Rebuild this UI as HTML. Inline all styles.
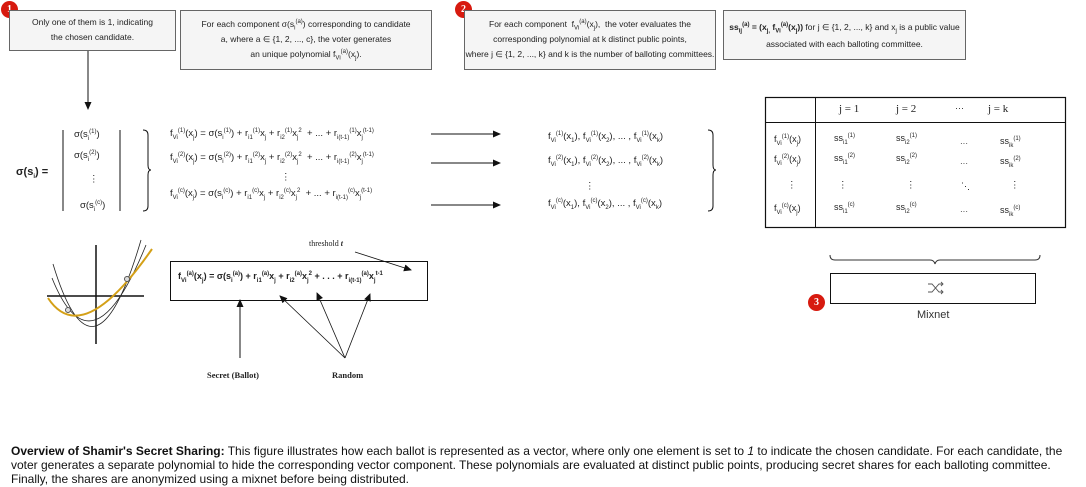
<!DOCTYPE html>
<html><head><meta charset="utf-8"><style>
body{margin:0;width:1086px;height:487px;background:#fff;position:relative;overflow:hidden;font-family:"Liberation Sans",sans-serif;color:#222}
.a{position:absolute;white-space:nowrap}
.box{position:absolute;background:#f5f5f5;border:1px solid #666;box-sizing:border-box;text-align:center;font-size:8.5px;line-height:15px;white-space:nowrap}
.badge{position:absolute;width:17px;height:17px;border-radius:50%;background:#d71a0f;color:#fff;font-size:10px;font-weight:bold;text-align:center;line-height:17px;font-family:"Liberation Serif",serif}
sup,sub{font-size:6px;line-height:0}
.eq{font-size:9.5px}
.t{font-family:"Liberation Serif",serif}
</style></head><body>
<svg class="a" style="left:0;top:0" width="1086" height="487">
<defs><marker id="ar" markerWidth="8" markerHeight="8" refX="7" refY="4" orient="auto" markerUnits="userSpaceOnUse"><path d="M0,0.5 L8,4 L0,7.5z" fill="#111"/></marker></defs>
<g stroke="#111" fill="none" stroke-width="1">
<line x1="88" y1="50" x2="88" y2="109" marker-end="url(#ar)"/>
<line x1="63" y1="130" x2="63" y2="211"/><line x1="120" y1="130" x2="120" y2="211"/>
<path d="M143,130 q5,0 5,5 v30 q0,5 3,5 q-3,0 -3,5 v31 q0,5 -5,5"/>
<path d="M708,130 q5,0 5,5 v30 q0,5 3,5 q-3,0 -3,5 v31 q0,5 -5,5"/>
<line x1="431" y1="134" x2="500" y2="134" marker-end="url(#ar)"/>
<line x1="431" y1="163" x2="500" y2="163" marker-end="url(#ar)"/>
<line x1="431" y1="205" x2="500" y2="205" marker-end="url(#ar)"/>
<rect x="765.5" y="97.5" width="300" height="130" stroke-width="1.2"/>
<line x1="765" y1="122.5" x2="1066" y2="122.5"/><line x1="815.5" y1="97" x2="815.5" y2="228"/>
<rect x="170.5" y="261.5" width="257" height="39"/>
<line x1="240" y1="358" x2="240" y2="300" marker-end="url(#ar)"/>
<line x1="345" y1="358" x2="280" y2="296" marker-end="url(#ar)" stroke-width="0.8"/>
<line x1="345" y1="358" x2="317" y2="293" marker-end="url(#ar)" stroke-width="0.8"/>
<line x1="345" y1="358" x2="370" y2="294" marker-end="url(#ar)" stroke-width="0.8"/>
<line x1="355" y1="252" x2="411" y2="270" marker-end="url(#ar)" stroke-width="0.8"/>
<path d="M830,255 q0,5 5,5 h95 q4,0 5,4 q1,-4 5,-4 h95 q5,0 5,-5" stroke="#333"/>
<rect x="830.5" y="273.5" width="205" height="30"/>
<path d="M928,284 h4 l7,8 h4 M928,292 h4 l7,-8 h4 M941,282 l2,2 -2,2 M941,290 l2,2 -2,2" stroke="#555" stroke-width="0.9"/>
<line x1="96" y1="245" x2="96" y2="344" stroke-width="1.5"/>
<line x1="47" y1="296" x2="144" y2="296" stroke-width="1.5"/>
<path d="M53,264 Q94,400 141,240" stroke="#222" stroke-width="0.8"/>
<path d="M52,278 Q92,378 146,245" stroke="#222" stroke-width="0.8"/>
<path d="M48,298 Q82,350 152,249" stroke="#d4a017" stroke-width="2"/>
<circle cx="68" cy="310" r="2.5" stroke="#555" fill="#ddd"/>
<circle cx="127" cy="279" r="2.5" stroke="#555" fill="#ddd"/>
</g></svg>

<div class="badge" style="left:1px;top:1px">1</div>
<div class="badge" style="left:455px;top:1px">2</div>
<div class="badge" style="left:808px;top:294px">3</div>

<div class="box" style="left:9px;top:10px;width:167px;height:41px;padding-top:4px">Only one of them is 1, indicating<br>the chosen candidate.</div>
<div class="box" style="left:180px;top:10px;width:252px;height:60px;padding-top:6px">For each component σ(s<sub>i</sub><sup>(a)</sup>) corresponding to candidate<br>a, where a ∈ {1, 2, ..., c}, the voter generates<br>an unique polynomial f<sub>Vi</sub><sup>(a)</sup>(x<sub>j</sub>).</div>
<div class="box" style="left:464px;top:10px;width:252px;height:60px;padding-top:6px">For each component &nbsp;f<sub>Vi</sub><sup>(a)</sup>(x<sub>j</sub>), &nbsp;the voter evaluates the<br>corresponding polynomial at k distinct public points,<br>where j ∈ {1, 2, ..., k} and k is the number of balloting committees.</div>
<div class="box" style="left:723px;top:10px;width:243px;height:50px;padding-top:8px;line-height:17px"><b>ss<sub>ij</sub><sup>(a)</sup> = (x<sub>j,</sub> f<sub>Vi</sub><sup>(a)</sup>(x<sub>j</sub>))</b> for j ∈ {1, 2, ..., k} and x<sub>j</sub> is a public value<br>associated with each balloting committee.</div>

<div class="a" style="left:16px;top:166px;font-size:11px;font-weight:bold">σ(s<sub>i</sub>) =</div>
<div class="a eq" style="left:74px;top:129px">σ(s<sub>i</sub><sup>(1)</sup>)</div>
<div class="a eq" style="left:74px;top:150px">σ(s<sub>i</sub><sup>(2)</sup>)</div>
<div class="a eq" style="left:89px;top:174px">⋮</div>
<div class="a eq" style="left:80px;top:200px">σ(s<sub>i</sub><sup>(c)</sup>)</div>

<div class="a eq" style="left:170px;top:128px">f<sub>Vi</sub><sup>(1)</sup>(x<sub>j</sub>) = σ(s<sub>i</sub><sup>(1)</sup>) + r<sub>i1</sub><sup>(1)</sup>x<sub>j</sub> + r<sub>i2</sub><sup>(1)</sup>x<sub>j</sub><sup>2</sup> &nbsp;+ ... + r<sub>i(t-1)</sub><sup>(1)</sup>x<sub>j</sub><sup>(t-1)</sup></div>
<div class="a eq" style="left:170px;top:152px">f<sub>Vi</sub><sup>(2)</sup>(x<sub>j</sub>) = σ(s<sub>i</sub><sup>(2)</sup>) + r<sub>i1</sub><sup>(2)</sup>x<sub>j</sub> + r<sub>i2</sub><sup>(2)</sup>x<sub>j</sub><sup>2</sup> &nbsp;+ ... + r<sub>i(t-1)</sub><sup>(2)</sup>x<sub>j</sub><sup>(t-1)</sup></div>
<div class="a eq" style="left:281px;top:172px">⋮</div>
<div class="a eq" style="left:170px;top:188px">f<sub>Vi</sub><sup>(c)</sup>(x<sub>j</sub>) = σ(s<sub>i</sub><sup>(c)</sup>) + r<sub>i1</sub><sup>(c)</sup>x<sub>j</sub> + r<sub>i2</sub><sup>(c)</sup>x<sub>j</sub><sup>2</sup> &nbsp;+ ... + r<sub>i(t-1)</sub><sup>(c)</sup>x<sub>j</sub><sup>(t-1)</sup></div>

<div class="a eq" style="left:548px;top:131px">f<sub>Vi</sub><sup>(1)</sup>(x<sub>1</sub>), f<sub>Vi</sub><sup>(1)</sup>(x<sub>2</sub>), ... , f<sub>Vi</sub><sup>(1)</sup>(x<sub>k</sub>)</div>
<div class="a eq" style="left:548px;top:155px">f<sub>Vi</sub><sup>(2)</sup>(x<sub>1</sub>), f<sub>Vi</sub><sup>(2)</sup>(x<sub>2</sub>), ... , f<sub>Vi</sub><sup>(2)</sup>(x<sub>k</sub>)</div>
<div class="a eq" style="left:585px;top:181px">⋮</div>
<div class="a eq" style="left:548px;top:198px">f<sub>Vi</sub><sup>(c)</sup>(x<sub>1</sub>), f<sub>Vi</sub><sup>(c)</sup>(x<sub>2</sub>), ... , f<sub>Vi</sub><sup>(c)</sup>(x<sub>k</sub>)</div>

<div class="a t" style="left:839px;top:103px;font-size:11px">j = 1</div>
<div class="a t" style="left:896px;top:103px;font-size:11px">j = 2</div>
<div class="a" style="left:955px;top:103px;font-size:9px">···</div>
<div class="a t" style="left:988px;top:103px;font-size:11px">j = k</div>
<div class="a eq" style="left:774px;top:134px;font-size:9px">f<sub>Vi</sub><sup>(1)</sup>(x<sub>j</sub>)</div>
<div class="a eq" style="left:774px;top:154px;font-size:9px">f<sub>Vi</sub><sup>(2)</sup>(x<sub>j</sub>)</div>
<div class="a eq" style="left:787px;top:180px">⋮</div>
<div class="a eq" style="left:774px;top:203px;font-size:9px">f<sub>Vi</sub><sup>(c)</sup>(x<sub>j</sub>)</div>
<div class="a eq" style="left:834px;top:133px;font-size:9px">ss<sub>i1</sub><sup>(1)</sup></div>
<div class="a eq" style="left:834px;top:153px;font-size:9px">ss<sub>i1</sub><sup>(2)</sup></div>
<div class="a eq" style="left:838px;top:180px">⋮</div>
<div class="a eq" style="left:834px;top:202px;font-size:9px">ss<sub>i1</sub><sup>(c)</sup></div>
<div class="a eq" style="left:896px;top:133px;font-size:9px">ss<sub>i2</sub><sup>(1)</sup></div>
<div class="a eq" style="left:896px;top:153px;font-size:9px">ss<sub>i2</sub><sup>(2)</sup></div>
<div class="a eq" style="left:906px;top:180px">⋮</div>
<div class="a eq" style="left:896px;top:202px;font-size:9px">ss<sub>i2</sub><sup>(c)</sup></div>
<div class="a" style="left:960px;top:139px;font-size:8px">···</div>
<div class="a" style="left:960px;top:159px;font-size:8px">···</div>
<div class="a" style="left:961px;top:181px;font-size:9px">⋱</div>
<div class="a" style="left:960px;top:207px;font-size:8px">···</div>
<div class="a eq" style="left:1000px;top:136px;font-size:9px">ss<sub>ik</sub><sup>(1)</sup></div>
<div class="a eq" style="left:1000px;top:156px;font-size:9px">ss<sub>ik</sub><sup>(2)</sup></div>
<div class="a eq" style="left:1010px;top:180px">⋮</div>
<div class="a eq" style="left:1000px;top:205px;font-size:9px">ss<sub>ik</sub><sup>(c)</sup></div>

<div class="a t" style="left:309px;top:239px;font-size:8px">threshold <b><i>t</i></b></div>
<div class="a" style="left:178px;top:271px;font-size:9px;font-weight:bold">f<sub>Vi</sub><sup>(a)</sup>(x<sub>j</sub>) = σ(s<sub>i</sub><sup>(a)</sup>) + r<sub>i1</sub><sup>(a)</sup>x<sub>j</sub> + r<sub>i2</sub><sup>(a)</sup>x<sub>j</sub><sup>2</sup> + . . . + r<sub>i(t-1)</sub><sup>(a)</sup>x<sub>j</sub><sup>t-1</sup></div>
<div class="a t" style="left:207px;top:370px;font-size:8.5px;font-weight:bold">Secret (Ballot)</div>
<div class="a t" style="left:332px;top:370px;font-size:8.5px;font-weight:bold">Random</div>
<div class="a" style="left:917px;top:309px;font-size:11px;color:#333">Mixnet</div>

<div class="a" style="left:11px;top:444px;width:1066px;white-space:normal;font-family:'Liberation Sans Narrow','Liberation Sans',sans-serif;font-size:12px;line-height:14px;color:#111"><b>Overview of Shamir's Secret Sharing:</b> This figure illustrates how each ballot is represented as a vector, where only one element is set to <i>1</i> to indicate the chosen candidate. For each candidate, the voter generates a separate polynomial to hide the corresponding vector component. These polynomials are evaluated at distinct public points, producing secret shares for each balloting committee. Finally, the shares are anonymized using a mixnet before being distributed.</div>
</body></html>
